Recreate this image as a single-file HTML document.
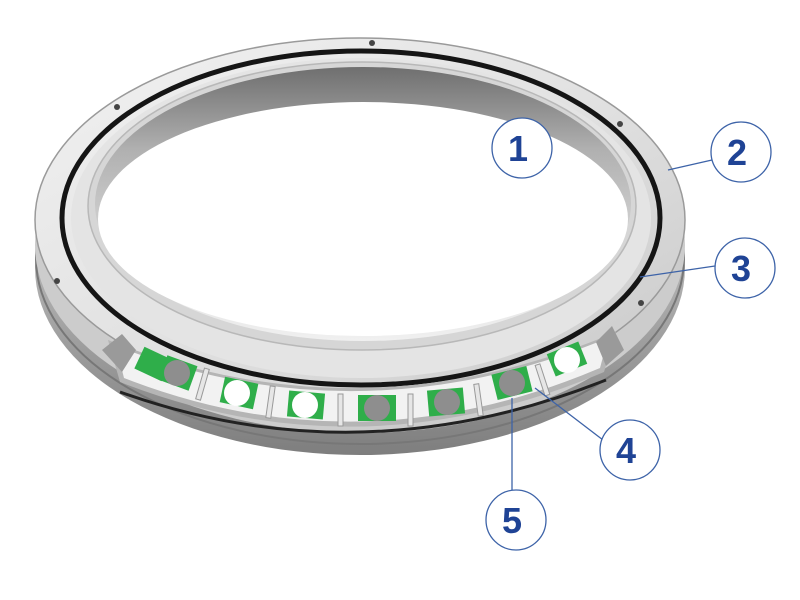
<!DOCTYPE html>
<html><head><meta charset="utf-8"><style>
html,body{margin:0;padding:0;background:#fff;}
svg{display:block;}
text{font-family:"Liberation Sans",Arial,sans-serif;font-weight:bold;fill:#1f4395;}
</style></head><body>
<svg width="800" height="600" viewBox="0 0 800 600">
<defs>
<linearGradient id="side" x1="0" y1="0" x2="0" y2="1">
<stop offset="0" stop-color="#d8d8d8"/><stop offset="0.6" stop-color="#a9a9a9"/><stop offset="1" stop-color="#7e7e7e"/></linearGradient>
<linearGradient id="face" x1="0" y1="0" x2="1" y2="1">
<stop offset="0" stop-color="#f2f2f2"/><stop offset="0.5" stop-color="#e2e2e2"/><stop offset="1" stop-color="#c8c8c8"/></linearGradient>
<linearGradient id="bore" x1="0" y1="0" x2="0" y2="1">
<stop offset="0" stop-color="#6f6f6f"/><stop offset="0.3" stop-color="#b0b0b0"/><stop offset="0.7" stop-color="#dcdcdc"/><stop offset="1" stop-color="#f0f0f0"/></linearGradient>
</defs>
<rect width="800" height="600" fill="#fff"/>
<ellipse cx="360" cy="268" rx="325" ry="187" fill="url(#side)"/>
<ellipse cx="360" cy="258" rx="324" ry="186" fill="none" stroke="#777" stroke-width="2"/>
<ellipse cx="360" cy="245" rx="325" ry="188" fill="#cccccc"/>
<ellipse cx="360" cy="220" rx="325" ry="182" fill="url(#face)" stroke="#9a9a9a" stroke-width="1.5"/>
<ellipse cx="361" cy="218" rx="299" ry="167" fill="none" stroke="#151515" stroke-width="5"/>
<ellipse cx="361" cy="218" rx="290" ry="160" fill="#e4e4e4"/>
<ellipse cx="362" cy="206" rx="274" ry="144" fill="#d6d6d6" stroke="#b8b8b8" stroke-width="1.5"/>
<ellipse cx="363" cy="204" rx="268" ry="137" fill="url(#bore)"/>
<ellipse cx="363" cy="219" rx="265" ry="117" fill="#fff"/>
<path d="M108,340 Q360,440 616,332 L604,372 Q360,476 120,382 Z" fill="#b5b5b5"/>
<path d="M116,346 Q360,440 608,338 L600,368 Q360,470 124,378 Z" fill="#f2f2f2"/>
<g fill="#2fae4a">
<rect x="138" y="352" width="30" height="24" transform="rotate(25 153 364)"/>
<rect x="162" y="360" width="32" height="26" transform="rotate(20 178 373)"/>
<rect x="222" y="380" width="34" height="26" transform="rotate(12 239 393)"/>
<rect x="288" y="392" width="36" height="26" transform="rotate(5 306 405)"/>
<rect x="358" y="395" width="38" height="26"/>
<rect x="428" y="389" width="36" height="26" transform="rotate(-5 446 402)"/>
<rect x="494" y="370" width="36" height="26" transform="rotate(-14 512 383)"/>
<rect x="550" y="347" width="34" height="24" transform="rotate(-22 567 359)"/>
</g>
<g fill="#e6e6e6" stroke="#999" stroke-width="1">
<rect x="200" y="368" width="5" height="32" transform="rotate(16 202 384)"/>
<rect x="268" y="386" width="5" height="32" transform="rotate(8 270 402)"/>
<rect x="338" y="394" width="5" height="32"/>
<rect x="408" y="394" width="5" height="32"/>
<rect x="476" y="384" width="5" height="32" transform="rotate(-8 478 400)"/>
<rect x="540" y="364" width="5" height="32" transform="rotate(-18 542 380)"/>
</g>
<circle cx="177" cy="373" r="13" fill="#8e8e8e"/>
<circle cx="237" cy="393" r="13" fill="#fff"/>
<circle cx="305" cy="405" r="13" fill="#fff"/>
<circle cx="377" cy="408" r="13" fill="#8e8e8e"/>
<circle cx="447" cy="402" r="13" fill="#8e8e8e"/>
<circle cx="512" cy="383" r="13" fill="#8e8e8e"/>
<circle cx="567" cy="360" r="13" fill="#fff"/>
<path d="M102,350 L122,334 L136,350 L122,372 Z" fill="#9a9a9a"/>
<path d="M596,342 L612,326 L624,350 L606,366 Z" fill="#9a9a9a"/>
<path d="M120,392 Q360,478 606,380" fill="none" stroke="#222" stroke-width="3"/>
<g fill="#444">
<circle cx="372" cy="43" r="3"/><circle cx="620" cy="124" r="3"/><circle cx="117" cy="107" r="3"/>
<circle cx="57" cy="281" r="3"/><circle cx="641" cy="303" r="3"/>
</g>
<g stroke="#3d63a8" stroke-width="1.3" fill="none">
<line x1="668" y1="170" x2="712" y2="160"/>
<line x1="640" y1="277" x2="715" y2="266"/>
<line x1="535" y1="388" x2="603" y2="440"/>
<line x1="512" y1="398" x2="512" y2="490"/>
</g>
<g fill="#fff" stroke="#3d63a8" stroke-width="1.3">
<circle cx="522" cy="148" r="30"/>
<circle cx="741" cy="152" r="30"/>
<circle cx="745" cy="268" r="30"/>
<circle cx="630" cy="450" r="30"/>
<circle cx="516" cy="520" r="30"/>
</g>
<g font-size="36" text-anchor="middle">
<text x="518" y="161">1</text>
<text x="737" y="165">2</text>
<text x="741" y="281">3</text>
<text x="626" y="463">4</text>
<text x="512" y="533">5</text>
</g>
</svg>
</body></html>
